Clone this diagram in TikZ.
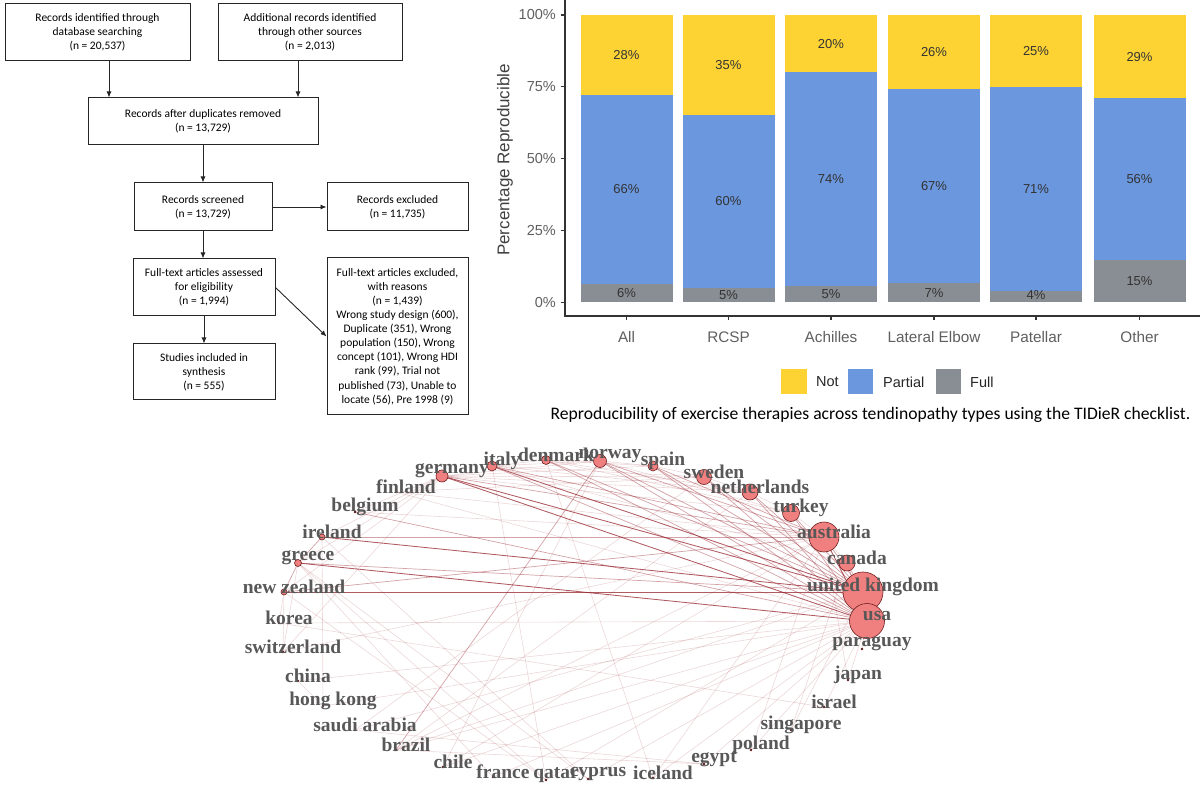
\documentclass[tikz,border=0pt]{standalone}
\usepackage{fontspec}
\usepackage{tikz}
\usetikzlibrary{arrows.meta}
\newfontfamily\flowfont{Carlito}
\newfontfamily\plotfont{Liberation Sans}
\newfontfamily\netfont{Liberation Serif}

\definecolor{notc}{RGB}{253,211,52}
\definecolor{partc}{RGB}{106,151,222}
\definecolor{fullc}{RGB}{137,142,148}
\definecolor{axisc}{RGB}{51,51,51}
\definecolor{tickc}{RGB}{95,95,95}
\definecolor{edgec}{RGB}{150,35,45}
\definecolor{vtxc}{RGB}{240,128,128}
\definecolor{vtxline}{RGB}{110,30,30}
\definecolor{labc}{RGB}{88,88,88}

\tikzset{
  box/.style={draw=black!85, line width=1pt, align=center, inner sep=0pt,
    font={\flowfont\fontsize{11.5}{14.1}\selectfont}},
  flowarr/.style={-{Latex[length=6pt,width=5pt]}, line width=0.9pt, black!85},
  axisline/.style={axisc, line width=1.1pt},
  ytick/.style={anchor=east, tickc, inner sep=0pt, font={\plotfont\fontsize{14.5}{16}\selectfont}},
  xlab/.style={tickc, inner sep=0pt, font={\plotfont\fontsize{15.3}{17}\selectfont}},
  barlab/.style={black!80, inner sep=0pt, font={\plotfont\fontsize{13}{15}\selectfont}},
  legtext/.style={anchor=west, black!85, inner sep=0pt, font={\plotfont\fontsize{14.5}{16}\selectfont}},
  estr/.style={draw=edgec, draw opacity=.75, line width=.85pt},
  emed/.style={draw=edgec, draw opacity=.42, line width=.7pt},
  elig/.style={draw=edgec, draw opacity=.18, line width=.6pt},
  vtx/.style={circle, fill=vtxc, draw=vtxline, line width=.6pt, inner sep=0pt},
  dot/.style={circle, fill=vtxline!80!black, inner sep=0pt, minimum size=2.6pt},
  netlab/.style={labc, inner sep=0pt, font={\netfont\bfseries\fontsize{19.5}{20}\selectfont}}
}

\begin{document}
\begin{tikzpicture}[x=1pt,y=-1pt]
\useasboundingbox (0,0) rectangle (1200,799);

% ---- flow diagram
\node[box, minimum width=185, minimum height=57] (rec-db) at (97.5,32)
  {Records identified through\\database searching\\(n = 20,537)};
\node[box, minimum width=184, minimum height=57] (rec-other) at (310,32.5)
  {Additional records identified\\through other sources\\(n = 2,013)};
\node[box, minimum width=230, minimum height=47] (rec-dedup) at (203,121.5)
  {Records after duplicates removed\\(n = 13,729)};
\node[box, minimum width=138, minimum height=48] (rec-screen) at (203,207)
  {Records screened\\(n = 13,729)};
\node[box, minimum width=141, minimum height=48] (rec-excl) at (397.5,207)
  {Records excluded\\(n = 11,735)};
\node[box, minimum width=142, minimum height=57] (ft-assess) at (204,287.5)
  {Full-text articles assessed\\for eligibility\\(n = 1,994)};
\node[box, minimum width=142, minimum height=56] (incl) at (204,372)
  {Studies included in\\synthesis\\(n = 555)};
\node[box, minimum width=141, minimum height=157] (ft-excl) at (397.5,336.5)
  {Full-text articles excluded,\\with reasons\\(n = 1,439)\\Wrong study design (600),\\Duplicate (351), Wrong\\population (150), Wrong\\concept (101), Wrong HDI\\rank (99), Trial not\\published (73), Unable to\\locate (56), Pre 1998 (9)};

\draw[flowarr] ([xshift=11.5pt]rec-db.south) -- ([xshift=11.5pt]rec-db.south |- rec-dedup.north);
\draw[flowarr] ([xshift=-12pt]rec-other.south) -- ([xshift=-12pt]rec-other.south |- rec-dedup.north);
\draw[flowarr] (rec-dedup.south) -- (rec-dedup.south |- rec-screen.north);
\draw[flowarr] (rec-screen.east) -- (rec-excl.west);
\draw[flowarr] (rec-screen.south) -- (rec-screen.south |- ft-assess.north);
\draw[flowarr] (ft-assess.south) -- (incl.north);
\draw[flowarr] (ft-assess.east) -- (ft-excl.west);

% ---- stacked bars
\foreach \key/\cx/\full/\part/\nf/\np/\nn/\cat in {
  all/626.5/6.4/72.2/6/66/28/All,
  rcsp/728.5/5.2/65.2/5/60/35/RCSP,
  ach/831/5.7/80/5/74/20/Achilles,
  lat/934/6.8/74.3/7/67/26/Lateral Elbow,
  pat/1036/4/75/4/71/25/Patellar,
  oth/1139.5/14.8/71/15/56/29/Other}
{
  \fill[notc] (\cx-46,15) rectangle (\cx+46,302.5-\part*2.875);
  \fill[partc] (\cx-46,302.5-\part*2.875) rectangle (\cx+46,302.5-\full*2.875);
  \fill[fullc] (\cx-46,302.5-\full*2.875) rectangle (\cx+46,302.5);
  \node[barlab] (not-\key) at (\cx,{302.5-(100+\part)/2*2.875}) {\nn\%};
  \node[barlab] (part-\key) at (\cx,{302.5-(\full+\part)/2*2.875}) {\np\%};
  \node[barlab] (full-\key) at (\cx,{302.5-max(\full,5)/2*2.875}) {\nf\%};
  \draw[axisline] (\cx,316) -- (\cx,320.5);
  \node[xlab] (x-\key) at (\cx,337) {\cat};
}
\draw[axisline] (565,0) -- (565,316) -- (1200,316);
\foreach \v in {0,25,50,75,100}{
  \draw[axisline] (560.5,302.5-\v*2.875) -- (565,302.5-\v*2.875);
  \node[ytick] (y-\v) at (556,302.5-\v*2.875) {\v\%};
}
\node[rotate=90, black!75, font={\plotfont\fontsize{17}{19}\selectfont}] (ytitle) at (505,160) {Percentage Reproducible};

% legend
\fill[notc] (781,369) rectangle (807,394);
\node[legtext] (leg-not) at (816,382) {Not};
\fill[partc] (848,369) rectangle (873,394);
\node[legtext] (leg-part) at (883,382) {Partial};
\fill[fullc] (936,369) rectangle (961,394);
\node[legtext] (leg-full) at (970,382) {Full};

\node[inner sep=0pt, font={\flowfont\fontsize{17.6}{19}\selectfont}] (caption) at (870.5,415)
  {Reproducibility of exercise therapies across tendinopathy types using the TIDieR checklist.};

% ---- collaboration network
\foreach \n/\x/\y in {ger/442/476, ita/492/466, den/546/460, nor/600/461, spa/653/466,
  swe/704/477, net/750/492, tur/791/513, aus/824/537, can/847/563, uk/863/592,
  usa/867/621, par/862/649, jap/848/680, isr/824/707, sin/791/730, pol/751/750,
  egy/704/764, ice/653/778, cyp/588/779, qat/546/780, fra/493/777, chi/443/767,
  bra/396/750, sau/355/730, hk/323/706, chn/298/681, swi/283/652, kor/279/623,
  nz/284/592, gre/298/563, ire/322/537, bel/355/512, fin/396/492}
  \coordinate (v-\n) at (\x,\y);

\foreach \a/\b in {ger/nor, ger/spa, ita/swe, den/net, nor/tur, ger/nz, ger/gre, ger/ire,
  fin/aus, fin/usa, bel/ger, kor/isr, sau/egy, gre/cyp, nz/qat, bra/usa, bra/aus,
  chi/usa, chn/usa, swi/ger, fra/gre, ice/den, cyp/usa, qat/uk, hk/usa, sau/uk,
  bra/uk, swi/aus, kor/usa, kor/nz, swi/nz, chn/hk, par/usa, jap/usa, sin/can,
  isr/usa, pol/aus, egy/usa, ice/aus, fra/usa, qat/ita, cyp/ire, chi/nor, sau/swe,
  bra/net, ice/usa, sin/uk, hk/ire, swi/gre, ita/nor, den/spa, swe/net, net/tur,
  tur/aus, aus/can, spa/swe, ita/den, nor/spa, ita/net, den/tur, ger/swe, ger/net,
  ger/tur, ita/can, qat/gre, pol/usa, chi/aus, fin/swe, bel/aus, jap/aus, egy/bra}
  \draw[elig] (v-\a) -- (v-\b);

\foreach \a/\b in {ita/usa, den/usa, nor/usa, nor/uk, spa/usa, swe/usa, swe/uk,
  net/usa, net/uk, tur/usa, tur/uk, can/usa, can/uk, aus/uk, ire/aus, nz/aus,
  gre/uk, bel/usa, ger/aus, spa/uk, den/uk, nor/bra, nz/gre, gre/ire, spa/aus,
  nor/aus, ita/aus}
  \draw[emed] (v-\a) -- (v-\b);

\foreach \a/\b in {uk/usa, aus/usa, ger/uk, ger/usa, ire/uk, gre/usa, nz/uk, ita/uk}
  \draw[estr] (v-\a) -- (v-\b);

\foreach \n/\r in {ger/6, ita/5, den/4.5, nor/6.5, spa/5, swe/7.5, net/8, tur/8.5,
  aus/15, can/8, uk/20, usa/17.5, nz/3, gre/3.5, ire/3}
  \node[vtx, minimum size=\r*2pt] (c-\n) at (v-\n) {};
\foreach \n in {par, jap, isr, sin, pol, egy, ice, cyp, qat, fra, chi, bra, sau, hk,
  chn, swi, kor, bel, fin}
  \node[dot] (c-\n) at (v-\n) {};

\foreach \n/\t in {ger/germany, ita/italy, den/denmark, nor/norway, spa/spain,
  swe/sweden, net/netherlands, tur/turkey, aus/australia, can/canada,
  uk/united kingdom, usa/usa, par/paraguay, jap/japan, isr/israel, sin/singapore,
  pol/poland, egy/egypt, ice/iceland, cyp/cyprus, qat/qatar, fra/france,
  chi/chile, bra/brazil, sau/saudi arabia, hk/hong kong, chn/china,
  swi/switzerland, kor/korea, nz/new zealand, gre/greece, ire/ireland,
  bel/belgium, fin/finland}
  \node[netlab] (l-\n) at ([shift={(10,-5)}]v-\n) {\t};
\end{tikzpicture}
\end{document}
